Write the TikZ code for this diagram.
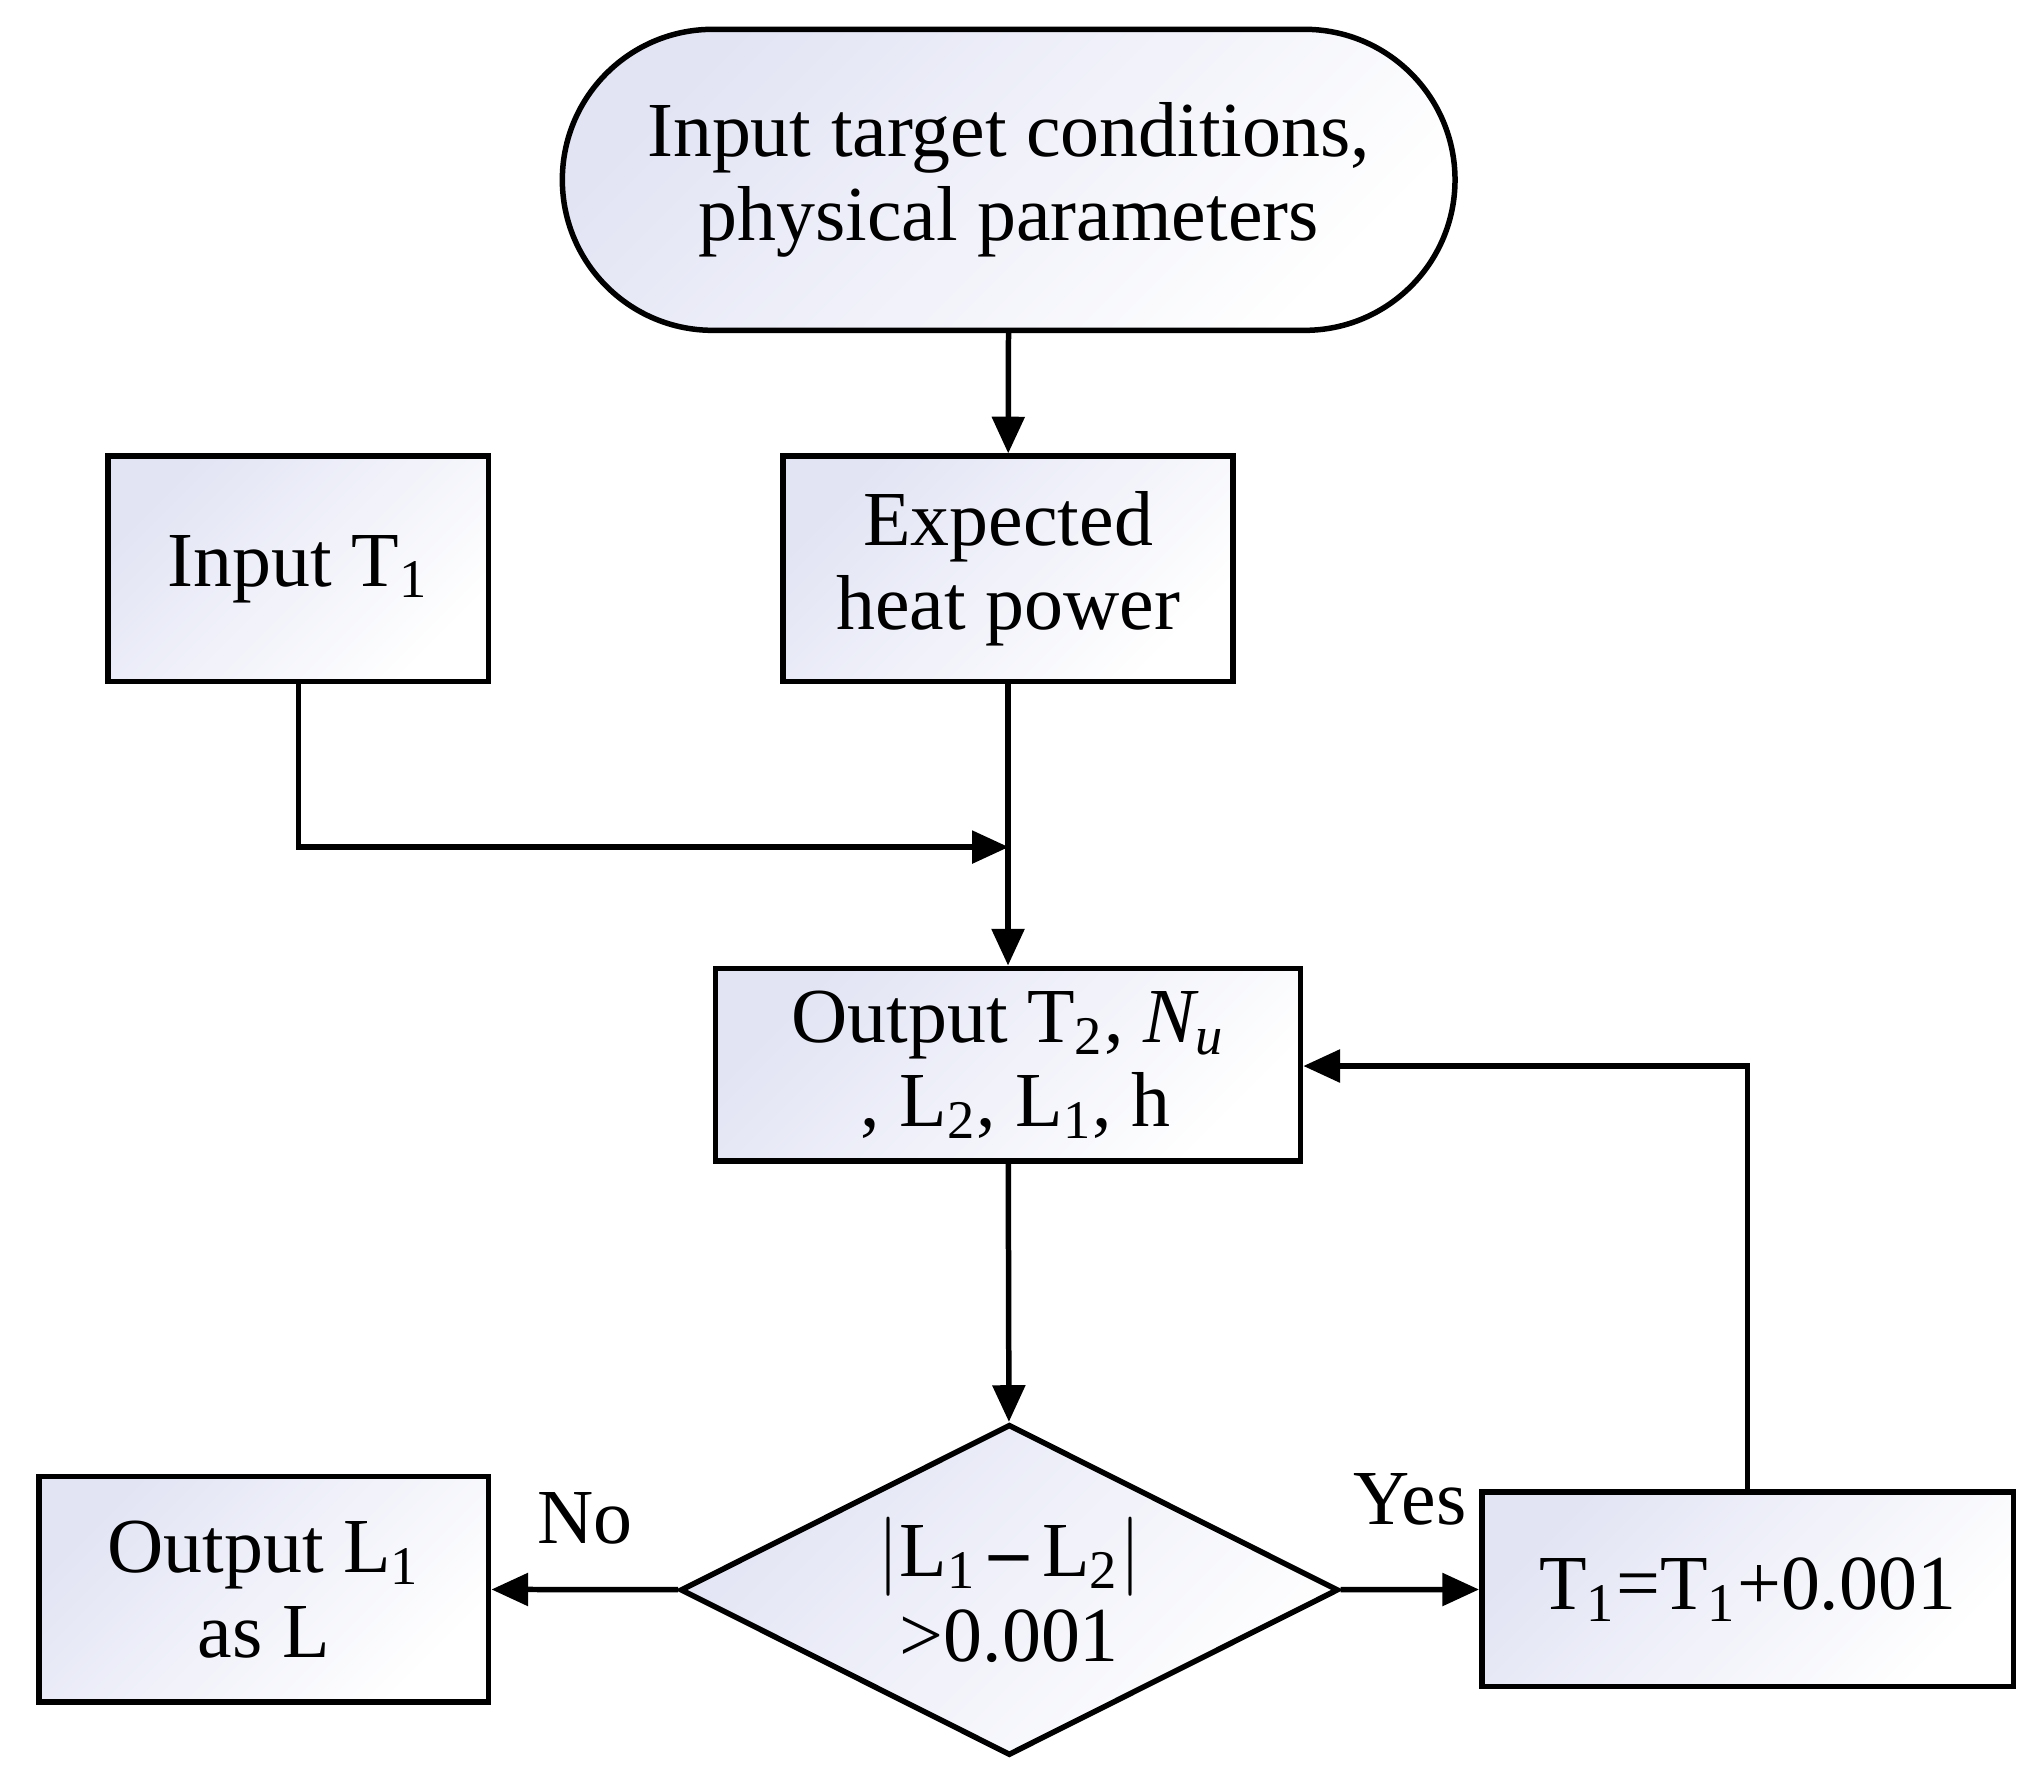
\documentclass[tikz,border=0pt]{standalone}
\usepackage{fontspec}
\setmainfont{Liberation Serif}
\usetikzlibrary{shapes.geometric,shapes.misc,arrows.meta}
\definecolor{shadeblue}{RGB}{226,228,244}
\begin{document}
\begin{tikzpicture}[x=0.1mm,y=-0.1mm,
  box/.style={draw,line width=1.2pt,inner sep=0pt,align=center,
    top color=shadeblue,bottom color=white,shading angle=45,
    font=\fontsize{17}{18.5}\selectfont},
  flow/.style={line width=1.2pt,-{Triangle[length=8pt,width=7pt]}},
  lbl/.style={font=\fontsize{17}{18.5}\selectfont}]
\useasboundingbox (0,0) rectangle (1560,1365);
% nodes
\node[box,rounded rectangle,minimum width=68.5mm,minimum height=23.1mm] (start) at (774,138)
  {Input target conditions,\\physical parameters};
\node[box,minimum width=29.2mm,minimum height=17.3mm] (in) at (229,436.5) {Input T\textsubscript{1}};
\node[box,minimum width=34.5mm,minimum height=17.3mm] (heat) at (773.5,436.5) {Expected\\heat power};
\node[box,minimum width=44.9mm,minimum height=14.8mm] (out) at (773.5,817)
  {Output T\textsubscript{2}, \textit{N\textsubscript{u}}\hspace{1.3em}\\\hspace{0.2em}, L\textsubscript{2}, L\textsubscript{1}, h};
\node[box,diamond,aspect=2,inner sep=-20pt,minimum width=50.5mm,minimum height=25.4mm] (cond) at (774.5,1220)
  {$|$L\textsubscript{1}\,\textbf{--}\,L\textsubscript{2}$|$\\>0.001};
\node[box,minimum width=34.5mm,minimum height=17.3mm] (res) at (202.5,1219.5) {Output L\textsubscript{1}\\as L};
\node[box,minimum width=40.8mm,minimum height=14.9mm] (inc) at (1341,1219.5) {T\textsubscript{1}=T\textsubscript{1}+0.001};
\coordinate (join) at (774,650);
\coordinate (loop) at (1341,818);
% connectors
\draw[flow] (start) -- (heat);
\draw[flow] (in.south) |- (join);
\draw[flow] (heat) -- (out);
\draw[flow] (out) -- (cond);
\draw[flow] (cond) -- node[lbl,above=6pt] {No} (res);
\draw[flow] (cond) -- node[lbl,above=10pt] {Yes} (inc);
\draw[flow] (inc.north) |- (out.east |- loop);
\end{tikzpicture}
\end{document}
